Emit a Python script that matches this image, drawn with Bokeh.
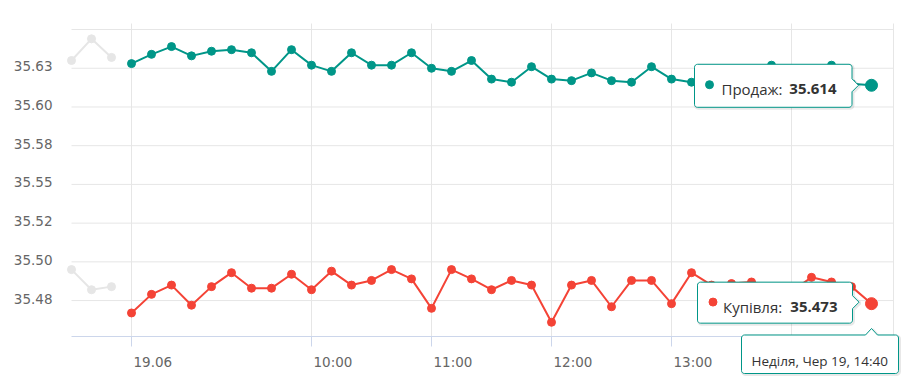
import math
from bokeh.plotting import figure
from bokeh.models import Range1d
from bokeh.core.properties import value
from bokeh.embed import file_html
from bokeh.resources import INLINE

# ---------------- data ----------------
times = ["08:30", "08:40", "08:50", "09:00", "09:10", "09:20", "09:30", "09:40", "09:50",
         "10:00", "10:10", "10:20", "10:30", "10:40", "10:50",
         "11:00", "11:10", "11:20", "11:30", "11:40", "11:50",
         "12:00", "12:10", "12:20", "12:30", "12:40", "12:50",
         "13:00", "13:10", "13:20", "13:30", "13:40", "13:50",
         "14:00", "14:10", "14:20", "14:30", "14:40"]

sell = [35.628, 35.634, 35.639, 35.633, 35.636, 35.637, 35.635, 35.623, 35.637, 35.627,
        35.623, 35.635, 35.627, 35.627, 35.635, 35.625, 35.623, 35.630, 35.618, 35.616,
        35.626, 35.618, 35.617, 35.622, 35.617, 35.616, 35.626, 35.618, 35.616, 35.617,
        35.619, 35.621, 35.627, 35.622, 35.620, 35.627, 35.615, 35.614]

buy = [35.467, 35.479, 35.485, 35.472, 35.484, 35.493, 35.483, 35.483, 35.492, 35.482,
       35.494, 35.485, 35.488, 35.495, 35.489, 35.470, 35.495, 35.489, 35.482, 35.488,
       35.485, 35.461, 35.485, 35.488, 35.471, 35.488, 35.488, 35.473, 35.493, 35.485,
       35.486, 35.487, 35.483, 35.481, 35.490, 35.487, 35.484, 35.473]

prev_sell = [35.630, 35.644, 35.632]
prev_buy = [35.495, 35.482, 35.484]

x_tick_times = ["08:30", "10:00", "11:00", "12:00", "13:00", "14:00"]
x_tick_labels = ["19.06", "10:00", "11:00", "12:00", "13:00", "14:00"]

y_ticks = [35.475, 35.500, 35.525, 35.550, 35.575, 35.600, 35.625, 35.650]
y_tick_labels = ["35.48", "35.50", "35.52", "35.55", "35.58", "35.60", "35.63", ""]

sell_name = "Продаж"
buy_name = "Купівля"
header = "Неділя, Чер 19"

# ---------------- styling / layout ----------------
TEAL = "#009688"
RED = "#f44336"
GRAY = "#e6e6e6"
GRID = "#e6e6e6"
AXIS = "#ccd6eb"
LABEL = "#666666"
TEXT = "#333333"
AX_FONT = "DejaVu Sans"
TT_FONT = "Open Sans"

W, H = 912, 387
# plot area in canvas pixels
PL, PR, PT, PB = 71, 893, 23, 336

idx = list(range(len(times)))
prev_idx = list(range(-len(prev_sell), 0))

xa0 = prev_idx[0]            # plot-area left
xa1 = idx[-1] + 1.1          # plot-area right
ya0, ya1 = 35.4518, 35.6539  # plot-area bottom / top

sx = (PR - PL) / (xa1 - xa0)
sy = (PB - PT) / (ya1 - ya0)

x_range = Range1d(xa0 - PL / sx, xa1 + (W - PR) / sx)
y_range = Range1d(ya0 - (H - PB) / sy, ya1 + PT / sy)

p = figure(width=W, height=H, x_range=x_range, y_range=y_range,
           output_backend="svg", toolbar_location=None,
           min_border=0, min_border_left=0, min_border_right=0,
           min_border_top=0, min_border_bottom=0)
p.outline_line_color = None
p.background_fill_color = "white"
p.border_fill_color = "white"
p.xaxis.visible = False
p.yaxis.visible = False
p.grid.visible = False


def X(x, px):
    return x + px / sx


def Y(y, py_down):
    return y - py_down / sy


xt = [times.index(t) for t in x_tick_times]

# grid lines
p.segment(x0=[xa0] * len(y_ticks), y0=y_ticks, x1=[xa1] * len(y_ticks), y1=y_ticks,
          line_color=GRID, line_width=1)
vx = xt + [xa1]
p.segment(x0=vx, y0=[ya0] * len(vx), x1=vx, y1=[ya1] * len(vx),
          line_color=GRID, line_width=1)

# x axis line and ticks
p.segment(x0=[xa0], y0=[ya0], x1=[xa1], y1=[ya0], line_color=AXIS, line_width=1)
p.segment(x0=xt, y0=[ya0] * len(xt), x1=xt, y1=[Y(ya0, 10)] * len(xt),
          line_color=AXIS, line_width=1)

# axis labels
p.text(x=[X(xa0, -19)] * len(y_ticks), y=[Y(v, -2) for v in y_ticks], text=y_tick_labels,
       text_align="right", text_baseline="alphabetic", text_font=value(AX_FONT),
       text_font_size="13.5px", text_color=LABEL)
p.text(x=[X(v, 2) for v in xt], y=[Y(ya0, 25)] * len(xt), text=x_tick_labels,
       text_align="left", text_baseline="alphabetic", text_font=value(AX_FONT),
       text_font_size="13.5px", text_color=LABEL)

# previous day (gray)
p.line(prev_idx, prev_sell, line_color=GRAY, line_width=2)
p.scatter(prev_idx, prev_sell, size=8, color=GRAY)
p.line(prev_idx, prev_buy, line_color=GRAY, line_width=2)
p.scatter(prev_idx, prev_buy, size=8, color=GRAY)

# main series
p.line(idx, sell, line_color=TEAL, line_width=2)
p.scatter(idx, sell, size=8, color=TEAL)
p.line(idx, buy, line_color=RED, line_width=2)
p.scatter(idx, buy, size=8, color=RED)

# hovered last points
p.scatter([idx[-1]], [sell[-1]], size=12, color=TEAL)
p.scatter([idx[-1]], [buy[-1]], size=12, color=RED)


# ---------------- tooltips ----------------
def arc(cx, cy, a0, a1, r, n=4):
    return [(cx + r * math.cos(math.radians(a0 + (a1 - a0) * k / n)),
             cy + r * math.sin(math.radians(a0 + (a1 - a0) * k / n))) for k in range(n + 1)]


def callout(L, T, R, B, side, notch, r=3):
    # screen-style offsets (y down); notch inserted on the given side
    pts = arc(L + r, T + r, 180, 270, r)
    if side == "top":
        pts += notch
    pts += arc(R - r, T + r, 270, 360, r)
    if side == "right":
        pts += notch
    pts += arc(R - r, B - r, 0, 90, r)
    pts += arc(L + r, B - r, 90, 180, r)
    return pts


def add_box(ax, ay, pts):
    xs_s = [X(ax, px + 1) for px, _ in pts]
    ys_s = [Y(ay, py + 1) for _, py in pts]
    p.patch(xs_s, ys_s, fill_alpha=0, line_color="black", line_alpha=0.09, line_width=3)
    xs = [X(ax, px) for px, _ in pts]
    ys = [Y(ay, py) for _, py in pts]
    p.patch(xs, ys, fill_color="white", line_color=TEAL, line_width=1)


ax = idx[-1]
ay = sell[-1]
by = buy[-1]

add_box(ax, ay, callout(-177, -21, -19.5, 22, "right",
                        [(-19.5, -6.5), (-13, 0), (-19.5, 6.5)]))
add_box(ax, by, callout(-174, -21.5, -19, 19.5, "right",
                        [(-19, -8), (-12.5, -1.5), (-19, 5)]))
add_box(ax, ya0, callout(-130, -1.5, 27, 37, "top",
                         [(-6, -1.5), (0, -8), (6, -1.5)]))

p.scatter([X(ax, -162), X(ax, -158.5)], [Y(ay, -0.6), Y(by, -1.6)], size=8,
          color=[TEAL, RED])

p.text(x=[X(ax, -150), X(ax, -148.5)], y=[Y(ay, 4), Y(by, 3.6)],
       text=[sell_name + ": ", buy_name + ": "], text_align="left",
       text_baseline="alphabetic", text_font=value(TT_FONT), text_font_size="15px",
       text_color=TEXT)
p.text(x=[X(ax, -35), X(ax, -34)], y=[Y(ay, 4), Y(by, 3.6)],
       text=[f"{sell[-1]:.3f}", f"{buy[-1]:.3f}"], text_align="right",
       text_baseline="alphabetic", text_font=value(TT_FONT), text_font_size="15px",
       text_font_style="bold", text_color=TEXT)
p.text(x=[X(ax, -120)], y=[Y(ya0, 24.7)], text=[f"{header}, {times[-1]}"],
       text_align="left", text_baseline="alphabetic", text_font=value(TT_FONT),
       text_font_size="13.5px", text_color=TEXT)

open("out.html", "w").write(file_html(p, INLINE))
